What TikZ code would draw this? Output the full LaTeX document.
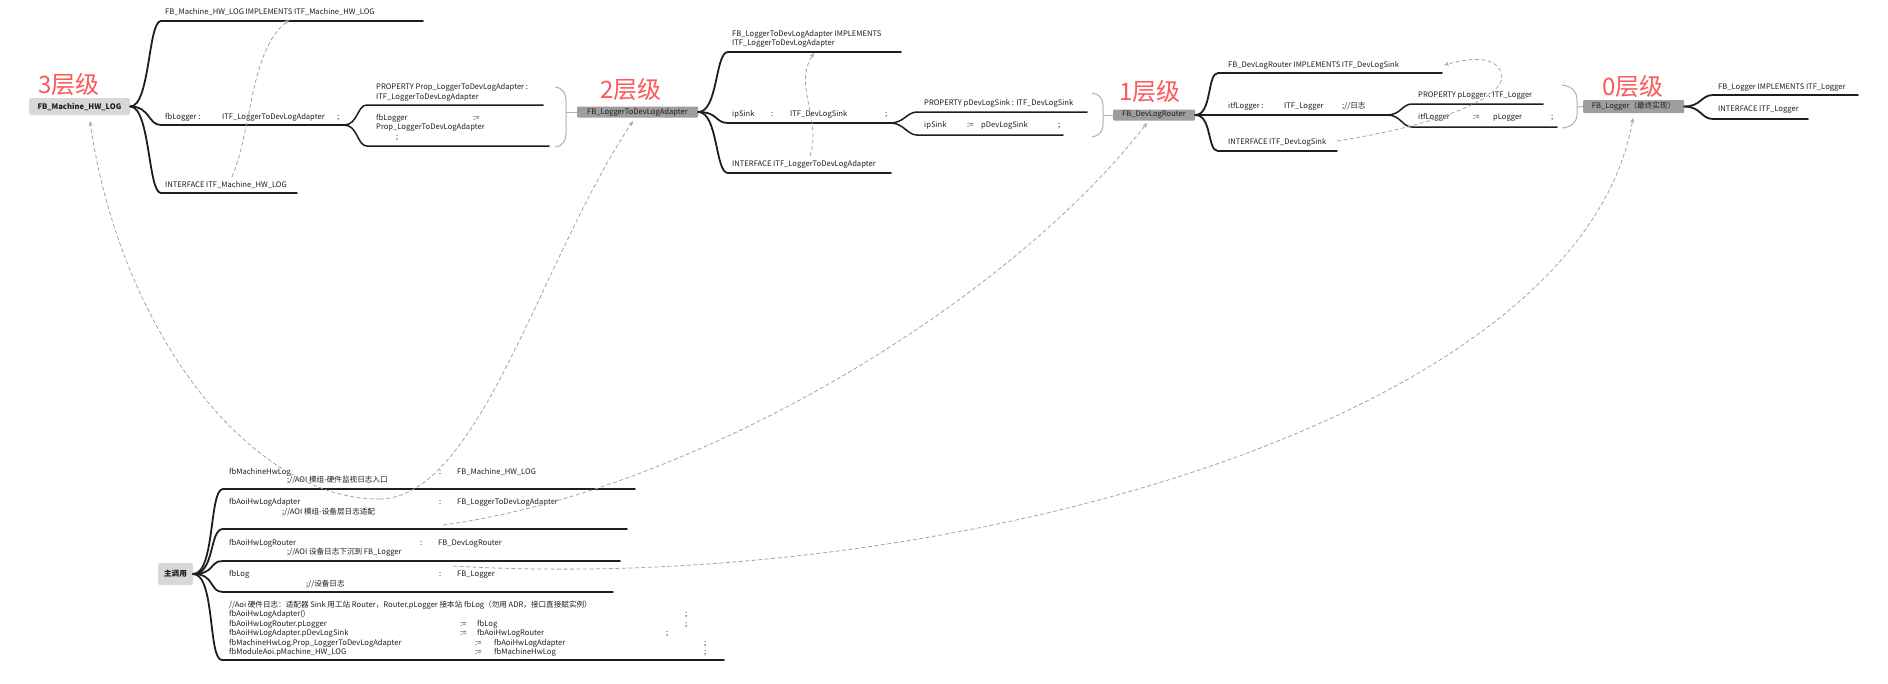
\documentclass[tikz,border=0pt]{standalone}
\usepackage{fontspec}
\setmainfont{Noto Sans CJK SC}
\usetikzlibrary{arrows.meta}
\definecolor{lvlred}{RGB}{250,90,90}
\definecolor{darkbox}{RGB}{158,158,158}
\definecolor{lightbox}{RGB}{216,216,216}
\definecolor{relgrey}{RGB}{165,165,165}
\definecolor{brgrey}{RGB}{175,175,175}
\definecolor{ink}{RGB}{30,30,30}
\newcommand\fs{\fontsize{7.6}{9}\selectfont}
\begin{document}
\begin{tikzpicture}[x=1pt,y=-1pt,
  txt/.style={inner sep=0pt, anchor=west, font=\fs, text=ink, text height=5.6pt, text depth=1.6pt},
  branch/.style={line width=1.8pt, ink, line cap=round},
  subbr/.style={line width=1.5pt, ink, line cap=round},
  rel/.style={relgrey, line width=0.8pt, dash pattern=on 4pt off 2.5pt, -{Stealth[length=5pt,width=4pt]}},
  brk/.style={brgrey, line width=1pt},
  lvl/.style={text=lvlred, font=\fontsize{24}{24}\selectfont, inner sep=0pt, anchor=west},
  dnode/.style={fill=darkbox, inner sep=0pt, minimum height=11pt, text=ink, font=\fs, rounded corners=1pt},
  lnode/.style={fill=lightbox, inner sep=0pt, minimum height=17pt, text=ink, font=\fs\bfseries, rounded corners=2pt}
]
\useasboundingbox[fill=white] (0,0) rectangle (1888,683);

% ---------------- level 3 ----------------
\node[lvl] (lv3) at (38,84) {3层级};
\node[lnode, minimum width=101pt] (n3) at (79.5,106.5) {FB\_Machine\_HW\_LOG};
\coordinate (s3a) at (161,21);  \coordinate (e3a) at (423,21);
\coordinate (s3b) at (161,125); \coordinate (e3b) at (344,125);
\coordinate (s3c) at (161,193); \coordinate (e3c) at (297,193);
\coordinate (s3d) at (367,105); \coordinate (e3d) at (543,105);
\coordinate (s3e) at (367,146); \coordinate (e3e) at (549,146);
\draw[branch] (n3.east) .. controls +(20,0) and +(-13,0) .. (s3a) -- (e3a);
\draw[branch] (n3.east) .. controls +(20,0) and +(-13,0) .. (s3b) -- (e3b);
\draw[branch] (n3.east) .. controls +(20,0) and +(-13,0) .. (s3c) -- (e3c);
\draw[subbr] (e3b) .. controls +(14,0) and +(-10,0) .. (s3d) -- (e3d);
\draw[subbr] (e3b) .. controls +(14,0) and +(-10,0) .. (s3e) -- (e3e);
\node[txt] (t3a) at (165,12) {FB\_Machine\_HW\_LOG IMPLEMENTS ITF\_Machine\_HW\_LOG};
\node[txt] (t3b1) at (165,117) {fbLogger :};
\node[txt] (t3b2) at (222,117) {ITF\_LoggerToDevLogAdapter};
\node[txt] (t3b3) at (337,117) {;};
\node[txt] (t3c) at (165,185) {INTERFACE ITF\_Machine\_HW\_LOG};
\node[txt] (t3d1) at (376,87) {PROPERTY Prop\_LoggerToDevLogAdapter :};
\node[txt] (t3d2) at (376,97) {ITF\_LoggerToDevLogAdapter};
\node[txt] (t3e1) at (376,118) {fbLogger};
\node[txt] (t3e2) at (473,118) {:=};
\node[txt] (t3e3) at (376,127) {Prop\_LoggerToDevLogAdapter};
\node[txt] (t3e4) at (396,137) {;};
\draw[brk] (555,87) .. controls (563,88) and (566,93) .. (566,102) -- (566,132) .. controls (566,141) and (563,146) .. (555,147);
\coordinate (b3) at (566,112);

% ---------------- level 2 ----------------
\node[lvl] (lv2) at (600,89) {2层级};
\node[dnode, minimum width=121pt] (n2) at (637.5,112) {FB\_LoggerToDevLogAdapter};
\draw[brk] (b3) -- (n2.west);
\coordinate (s2a) at (728,52);  \coordinate (e2a) at (901,52);
\coordinate (s2b) at (728,123); \coordinate (e2b) at (890,123);
\coordinate (s2c) at (728,173); \coordinate (e2c) at (891,173);
\coordinate (s2d) at (917,112); \coordinate (e2d) at (1087,112);
\coordinate (s2e) at (917,135); \coordinate (e2e) at (1063,135);
\draw[branch] (n2.east) .. controls +(20,0) and +(-13,0) .. (s2a) -- (e2a);
\draw[branch] (n2.east) .. controls +(20,0) and +(-13,0) .. (s2b) -- (e2b);
\draw[branch] (n2.east) .. controls +(20,0) and +(-13,0) .. (s2c) -- (e2c);
\draw[subbr] (e2b) .. controls +(14,0) and +(-10,0) .. (s2d) -- (e2d);
\draw[subbr] (e2b) .. controls +(14,0) and +(-10,0) .. (s2e) -- (e2e);
\node[txt] (t2a1) at (732,34) {FB\_LoggerToDevLogAdapter IMPLEMENTS};
\node[txt] (t2a2) at (732,43) {ITF\_LoggerToDevLogAdapter};
\node[txt] (t2b1) at (732,114) {ipSink};
\node[txt] (t2b2) at (771,114) {:};
\node[txt] (t2b3) at (790,114) {ITF\_DevLogSink};
\node[txt] (t2b4) at (885,114) {;};
\node[txt] (t2c) at (732,164) {INTERFACE ITF\_LoggerToDevLogAdapter};
\node[txt] (t2d) at (924,103) {PROPERTY pDevLogSink : ITF\_DevLogSink};
\node[txt] (t2e1) at (924,125) {ipSink};
\node[txt] (t2e2) at (967,125) {:=};
\node[txt] (t2e3) at (981,125) {pDevLogSink};
\node[txt] (t2e4) at (1058,125) {;};
\draw[brk] (1092,93) .. controls (1099,94) and (1103,98) .. (1103,106) -- (1103,124) .. controls (1103,132) and (1099,136) .. (1092,137);
\coordinate (b2) at (1103,115);

% ---------------- level 1 ----------------
\node[lvl] (lv1) at (1119,91) {1层级};
\node[dnode, minimum width=82pt] (n1) at (1154,115) {FB\_DevLogRouter};
\draw[brk] (b2) -- (n1.west);
\coordinate (s1a) at (1218,73);  \coordinate (e1a) at (1442,73);
\coordinate (s1b) at (1218,115); \coordinate (e1b) at (1387,115);
\coordinate (s1c) at (1218,151); \coordinate (e1c) at (1337,151);
\coordinate (s1d) at (1412,104); \coordinate (e1d) at (1543,104);
\coordinate (s1e) at (1412,127); \coordinate (e1e) at (1557,127);
\draw[branch] (n1.east) .. controls +(17,0) and +(-11,0) .. (s1a) -- (e1a);
\draw[branch] (n1.east) .. controls +(17,0) and +(-11,0) .. (s1b) -- (e1b);
\draw[branch] (n1.east) .. controls +(17,0) and +(-11,0) .. (s1c) -- (e1c);
\draw[subbr] (e1b) .. controls +(14,0) and +(-10,0) .. (s1d) -- (e1d);
\draw[subbr] (e1b) .. controls +(14,0) and +(-10,0) .. (s1e) -- (e1e);
\node[txt] (t1a) at (1228,65) {FB\_DevLogRouter IMPLEMENTS ITF\_DevLogSink};
\node[txt] (t1b1) at (1228,106) {itfLogger :};
\node[txt] (t1b2) at (1284,106) {ITF\_Logger};
\node[txt] (t1b3) at (1342,106) {;//日志};
\node[txt] (t1c) at (1228,142) {INTERFACE ITF\_DevLogSink};
\node[txt] (t1d) at (1418,95) {PROPERTY pLogger : ITF\_Logger};
\node[txt] (t1e1) at (1418,117) {itfLogger};
\node[txt] (t1e2) at (1473,117) {:=};
\node[txt] (t1e3) at (1493,117) {pLogger};
\node[txt] (t1e4) at (1551,117) {;};
\draw[brk] (1562,85) .. controls (1571,86) and (1577,91) .. (1577,100) -- (1577,114) .. controls (1577,123) and (1571,127) .. (1562,128);
\coordinate (b1) at (1577,107);

% ---------------- level 0 ----------------
\node[lvl] (lv0) at (1602,86) {0层级};
\node[dnode, minimum width=101pt, minimum height=13pt] (n0) at (1633.5,106.5) {FB\_Logger（最终实现）};
\draw[brk] (b1) -- (n0.west);
\coordinate (s0a) at (1713,95);  \coordinate (e0a) at (1858,95);
\coordinate (s0b) at (1713,119); \coordinate (e0b) at (1808,119);
\draw[branch] (n0.east) .. controls +(17,0) and +(-12,0) .. (s0a) -- (e0a);
\draw[branch] (n0.east) .. controls +(17,0) and +(-12,0) .. (s0b) -- (e0b);
\node[txt] (t0a) at (1718,87) {FB\_Logger IMPLEMENTS ITF\_Logger};
\node[txt] (t0b) at (1718,109) {INTERFACE ITF\_Logger};

% ---------------- main call ----------------
\node[lnode, minimum width=35pt, minimum height=22pt] (nm) at (175.5,574) {主调用};
\coordinate (sm1) at (223,489); \coordinate (em1) at (635,489);
\coordinate (sm2) at (223,529); \coordinate (em2) at (627,529);
\coordinate (sm3) at (223,561); \coordinate (em3) at (620,561);
\coordinate (sm4) at (223,592); \coordinate (em4) at (613,592);
\coordinate (sm5) at (222,660); \coordinate (em5) at (724,660);
\foreach \k in {1,2,3,4,5}
  \draw[branch] (nm.east) .. controls +(22,0) and +(-14,0) .. (sm\k) -- (em\k);

\node[txt] (r1a) at (229,472) {fbMachineHwLog};
\node[txt] (r1b) at (439,472) {:};
\node[txt] (r1c) at (457,472) {FB\_Machine\_HW\_LOG};
\node[txt] (r1d) at (287,480.5) {;//AOI 模组-硬件监视日志入口};
\node[txt] (r2a) at (229,502) {fbAoiHwLogAdapter};
\node[txt] (r2b) at (439,502) {:};
\node[txt] (r2c) at (457,502) {FB\_LoggerToDevLogAdapter};
\node[txt] (r2d) at (282,512) {;//AOI 模组-设备层日志适配};
\node[txt] (r3a) at (229,543) {fbAoiHwLogRouter};
\node[txt] (r3b) at (420,543) {:};
\node[txt] (r3c) at (438,543) {FB\_DevLogRouter};
\node[txt] (r3d) at (287,552) {;//AOI 设备日志下沉到 FB\_Logger};
\node[txt] (r4a) at (229,574) {fbLog};
\node[txt] (r4b) at (439,574) {:};
\node[txt] (r4c) at (457,574) {FB\_Logger};
\node[txt] (r4d) at (306,584) {;//设备日志};

\node[txt] (q1) at (229,605) {//Aoi 硬件日志：适配器 \textit{Sink} 用工站 Router，Router.pLogger 接本站 fbLog（勿用 ADR，接口直接赋实例）};
\node[txt] (q2a) at (229,614) {fbAoiHwLogAdapter()};
\node[txt] (q2b) at (685,614) {;};
\node[txt] (q3a) at (229,624) {fbAoiHwLogRouter.pLogger};
\node[txt] (q3b) at (460,624) {:=};
\node[txt] (q3c) at (477,624) {fbLog};
\node[txt] (q3d) at (685,624) {;};
\node[txt] (q4a) at (229,633) {fbAoiHwLogAdapter.pDevLogSink};
\node[txt] (q4b) at (460,633) {:=};
\node[txt] (q4c) at (477,633) {fbAoiHwLogRouter};
\node[txt] (q4d) at (666,633) {;};
\node[txt] (q5a) at (229,643) {fbMachineHwLog.Prop\_LoggerToDevLogAdapter};
\node[txt] (q5b) at (475,643) {:=};
\node[txt] (q5c) at (494,643) {fbAoiHwLogAdapter};
\node[txt] (q5d) at (704,643) {;};
\node[txt] (q6a) at (229,652) {fbModuleAoi.pMachine\_HW\_LOG};
\node[txt] (q6b) at (475,652) {:=};
\node[txt] (q6c) at (494,652) {fbMachineHwLog};
\node[txt] (q6d) at (704,652) {;};

% ---------------- relationship lines ----------------
\coordinate (i3) at (232,177); \coordinate (m3) at (289,20);
\draw[rel] (i3) .. controls (252,130) and (250,50) .. (m3);
\coordinate (i2) at (810,156); \coordinate (m2) at (814,53);
\draw[rel] (i2) .. controls (822,120) and (793,85) .. (m2);
\coordinate (i1) at (1337,141); \coordinate (m1) at (1444,65);
\draw[rel] (i1) .. controls (1440,125) and (1515,95) .. (1500,70) .. controls (1492,56) and (1470,58) .. (m1);

\coordinate (u0) at (380,499);
\coordinate (a3) at (90,121);
\coordinate (a2) at (633,121);
\coordinate (a1) at (1147,123);
\coordinate (a0) at (1633,118);
\coordinate (c1) at (443,525);
\coordinate (c0) at (453,566);
\draw[rel] (u0) .. controls (250,500) and (120,330) .. (a3);
\draw[rel] (u0) .. controls (480,497) and (540,260) .. (a2);
\draw[rel] (c1) .. controls (700,490) and (1010,300) .. (a1);
\draw[rel] (c0) .. controls (950,595) and (1580,420) .. (a0);
\end{tikzpicture}
\end{document}
